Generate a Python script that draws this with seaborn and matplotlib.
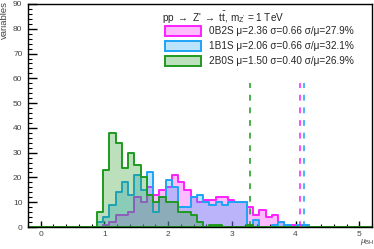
import numpy as np
import pandas as pd
import matplotlib
matplotlib.use("Agg")
import matplotlib.pyplot as plt
from matplotlib.patches import Patch
from matplotlib.ticker import MultipleLocator
import seaborn as sns

# mu_BH binning: 55 bins spanning the full axis range
x_lo, x_hi, n_bins = -0.2, 5.2, 55
first_bin = 11  # first bin with any entries

# bin contents, starting at first_bin
counts_0b2s = [0, 1, 2, 5, 5, 6, 12, 10, 16, 13, 15, 16, 21, 18, 15, 12, 10,
               11, 11, 12, 12, 11, 10, 10, 8, 5, 7, 4, 5, 2, 1, 1, 1, 1]
counts_1b1s = [2, 4, 9, 14, 18, 13, 21, 15, 22, 6, 12, 19, 16, 8, 8, 12, 13,
               10, 9, 10, 9, 10, 10, 10, 0, 3, 0, 0, 1, 2, 1, 0, 1, 1]
counts_2b0s = [6, 23, 38, 34, 24, 30, 25, 20, 13, 10, 12, 10, 10, 6, 6, 5, 2,
               0, 1, 1, 0, 0, 0, 0, 1]

samples = ["0B2S", "1B1S", "2B0S"]
labels = ["0B2S \u03bc=2.36 \u03c3=0.66 \u03c3/\u03bc=27.9%",
          "1B1S \u03bc=2.06 \u03c3=0.66 \u03c3/\u03bc=32.1%",
          "2B0S \u03bc=1.50 \u03c3=0.40 \u03c3/\u03bc=26.9%"]
cut_values = [4.07, 4.14, 3.28]
cut_height = 58
line_colors = ["#ff1fff", "#1ea4f5", "#1f9a1f"]


def build_frame():
    edges = np.linspace(x_lo, x_hi, n_bins + 1)
    centers = 0.5 * (edges[:-1] + edges[1:])
    rows = []
    for name, counts in zip(samples, [counts_0b2s, counts_1b1s, counts_2b0s]):
        full = np.zeros(n_bins)
        full[first_bin:first_bin + len(counts)] = counts
        rows.append(pd.DataFrame({"mu": centers, "n": full, "sample": name}))
    return pd.concat(rows, ignore_index=True)


df = build_frame()

sns.set_style("white")
plt.rcParams["font.family"] = ["Liberation Sans", "DejaVu Sans"]
plt.rcParams["mathtext.fontset"] = "custom"
plt.rcParams["mathtext.rm"] = "Liberation Sans"
plt.rcParams["mathtext.it"] = "Liberation Sans:italic"

fig = plt.figure(figsize=(3.74, 2.49), dpi=100)
ax = fig.add_axes([28 / 374, 22 / 249, 344 / 374, 223 / 249])

for name, col in zip(samples, line_colors):
    sub = df[df["sample"] == name]
    sns.histplot(data=sub, x="mu", weights="n", binrange=(x_lo, x_hi),
                 bins=n_bins, element="step", fill=True, color=col,
                 alpha=0.3, linewidth=1.4, ax=ax)

for xc, col in zip(cut_values, line_colors):
    ax.plot([xc, xc], [0, cut_height], color=col, lw=1.4,
            dashes=(3, 3.5), alpha=0.8)

ax.set_xlim(x_lo, x_hi)
ax.set_ylim(0, 90)
ax.xaxis.set_major_locator(MultipleLocator(1))
ax.xaxis.set_minor_locator(MultipleLocator(0.2))
ax.yaxis.set_major_locator(MultipleLocator(10))
ax.yaxis.set_minor_locator(MultipleLocator(2))
ax.tick_params(which="both", bottom=True, left=True, top=False, right=False,
               color="black")
ax.tick_params(axis="y", which="major", direction="in", length=6.5, width=1,
               labelsize=6, pad=4, labelcolor="#444444")
ax.tick_params(axis="y", which="minor", direction="in", length=3.2, width=0.8)
ax.tick_params(axis="x", which="major", direction="in", length=4.5, width=1,
               labelsize=6, pad=3, labelcolor="#444444")
ax.tick_params(axis="x", which="minor", direction="in", length=2.2, width=0.8)
for sp in ax.spines.values():
    sp.set_linewidth(1.0)
    sp.set_color("black")
ax.set_xlabel("")
ax.set_ylabel("")

fig.text(4 / 374, 1 - 1 / 249, "variables", rotation=90, ha="center",
         va="top", fontsize=6.8, color="#444444")
fig.text(360 / 374, 1 - 247 / 249, r"$\mu_{\rm BH}$", ha="left",
         va="bottom", fontsize=6, color="#444444")

fig.text(162 / 374, 1 - 17 / 249,
         r"pp $\rightarrow$ Z' $\rightarrow$ t$\bar{\rm t}$, m$_{\rm Z'}$ = 1 TeV",
         ha="left", va="center", fontsize=7.2)

handles = [Patch(facecolor=matplotlib.colors.to_rgba(c, 0.3), edgecolor=c,
                 linewidth=1.4) for c in line_colors]
fig.legend(handles, labels, loc="upper left",
           bbox_to_anchor=(165 / 374, 1 - 26 / 249), frameon=False,
           fontsize=7.2, handlelength=3.6, handleheight=1.15,
           handletextpad=0.8, labelspacing=0.45, borderpad=0,
           borderaxespad=0)

fig.savefig("out.png", dpi=100)
